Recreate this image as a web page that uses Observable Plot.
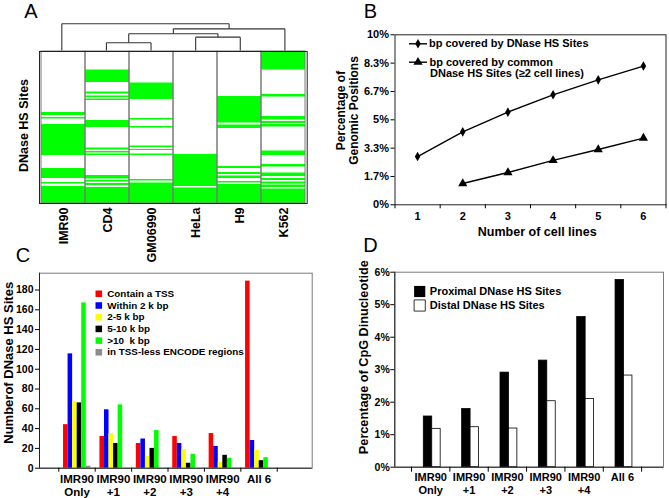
<!DOCTYPE html>
<html><head><meta charset="utf-8">
<script src="https://cdn.jsdelivr.net/npm/d3@7"></script>
<script src="https://cdn.jsdelivr.net/npm/@observablehq/plot@0.6"></script>
<style>
body{margin:0;background:#fff;}
#fig{position:relative;width:669px;height:498px;overflow:hidden;background:#fff;}
#fig svg{position:absolute;left:0;top:0;}
</style></head><body><div id="fig"></div>
<script>
// ---------- Panel A data ----------
const cellLines = ["IMR90","CD4","GM06990","HeLa","H9","K562"];
// green DNase HS site bands (site-row units, 0 = top, 152 = bottom)
const bandsIMR90 = [[61,64],[66,67.5],[73,104],[117,127],[131,132.5],[135,152]];
const bandsCD4 = [[18.5,31],[40.5,42.5],[44.5,46],[47.5,49],[69,76],[96.5,98.5],[100,101.5],[102.5,104],[124,127.5],[129,130.5],[132,134],[136,152]];
const bandsGM06990 = [[31.5,48],[67,68.5],[75,76.5],[94.5,96],[98,99],[102.5,104],[128,129.5],[131.5,152]];
const bandsHeLa = [[103,135],[136.5,152]];
const bandsH9 = [[45,71.5],[73.5,77],[115,117],[121,123],[124.5,127],[130,131.5],[133,152]];
const bandsK562 = [[0,18.5],[43,45.5],[65,68.5],[70,72],[73,75.5],[99.5,104],[113,115.5],[121.5,125],[127,129],[130.5,132.5],[133.5,136],[137.5,152]];
const siteRows = 152;
// dendrogram merges: [left, right, height]
const dendroMerges = [["CD4","GM06990",0.29],["HeLa","H9",0.50],["m0","m1",0.63],["m2","K562",0.81],["IMR90","m3",1.0]];

// ---------- Panel B data ----------
const numCellLines = [1,2,3,4,5,6];
const bpCoveredAll = [2.84,4.29,5.45,6.47,7.35,8.16];
const bpCoveredCommon = [null,1.25,1.90,2.61,3.25,3.92];
const bTickLabels = ["0%","1.7%","3.3%","5%","6.7%","8.3%","10%"];
const bSeriesNames = ["bp covered by DNase HS Sites","bp covered by common","DNase HS Sites (\u22652 cell lines)"];

// ---------- Panel C data ----------
const cCategories = ["IMR90\nOnly","IMR90\n+1","IMR90\n+2","IMR90\n+3","IMR90\n+4","All 6"];
const cSeries = ["Contain a TSS","Within 2 k bp","2-5 k bp","5-10 k bp",">10  k bp","in TSS-less ENCODE regions"];
const cColors = ["#ff0000","#0000ff","#ffff00","#000000","#00ff00","#8c8c8c"];
const cTSS = [44,32,25,32,35,189];
const cWithin2k = [115.5,59,29.5,25,22,28];
const c2to5k = [67,35,12,19,6,18];
const c5to10k = [66,25,20,5,13,7.6];
const cOver10k = [167,64,38,14,10,10.6];
const cTSSless = [2,0,0,0,0,0];
const cTicks = [0,20,40,60,80,100,120,140,160,180];

// ---------- Panel D data ----------
const dCategories = ["IMR90\nOnly","IMR90\n+1","IMR90\n+2","IMR90\n+3","IMR90\n+4","All 6"];
const dProximal = [1.56,1.79,2.91,3.28,4.62,5.76];
const dDistal = [1.18,1.23,1.19,2.03,2.10,2.82];
const dSeries = ["Proximal DNase HS Sites","Distal DNase HS Sites"];

// ---------- helpers ----------
const FONT = "Liberation Sans, Arial, Helvetica, sans-serif";
const W = 669, H = 498;
const baseStyle = {background:"transparent", overflow:"visible", fontFamily:FONT, color:"black"};
function label(t, o) {
  return Plot.text([t], {text: d => d, fontWeight:"bold", textAnchor:"middle", lineAnchor:"middle", fill:"black", ...o});
}
const lineSymbol = {draw(ctx){ ctx.moveTo(-9,0); ctx.lineTo(9,0); }};
const fig = document.getElementById("fig");

// ---------- Panel A: heatmap ----------
const heatRows = [];
[bandsIMR90,bandsCD4,bandsGM06990,bandsHeLa,bandsH9,bandsK562].forEach((bs,i) => {
  bs.forEach(([s,e]) => heatRows.push({line: cellLines[i], start: s, end: e}));
});
const A = Plot.plot({
  width:W, height:H, marginLeft:39, marginRight:362.3, marginTop:51, marginBottom:295,
  style: baseStyle,
  x:{domain:cellLines, padding:0, axis:null},
  y:{domain:[0,siteRows], reverse:true, axis:null},
  marks:[
    Plot.barY(heatRows, {x:"line", y1:"start", y2:"end", fill:"#00ff00", inset:0}),
    Plot.barY(cellLines, {x:d=>d, y1:()=>0, y2:()=>siteRows, fill:"none", stroke:"#7a7a7a", inset:0}),
    Plot.frame({stroke:"#222"}),
    Plot.axisX({anchor:"bottom", label:null, tickRotate:-90, tickSize:0, tickPadding:4, fontSize:12.5, fontWeight:"bold"}),
    label("DNase HS Sites", {frameAnchor:"left", dx:-16, dy:-2, rotate:-90, fontSize:12.5}),
    label("A", {frameAnchor:"top-left", dx:-8.5, dy:-39.5, fontSize:20, fontWeight:"normal"})
  ]
});
fig.appendChild(A);

// dendrogram
const pos = {}; cellLines.forEach((c,i) => pos[c] = {x:i, h:0});
const segs = [];
dendroMerges.forEach(([a,b,h],k) => {
  const pa = pos[a], pb = pos[b];
  segs.push({x1:pa.x, y1:pa.h, x2:pa.x, y2:h});
  segs.push({x1:pb.x, y1:pb.h, x2:pb.x, y2:h});
  segs.push({x1:pa.x, y1:h, x2:pb.x, y2:h});
  pos["m"+k] = {x:(pa.x+pb.x)/2, h};
});
const Ad = Plot.plot({
  width:W, height:H, marginLeft:39, marginRight:362.3, marginTop:23.3, marginBottom:448,
  style: baseStyle,
  x:{domain:[-0.5,5.5], axis:null}, y:{domain:[0,1], axis:null},
  marks:[Plot.link(segs, {x1:"x1", y1:"y1", x2:"x2", y2:"y2", stroke:"#333", strokeWidth:1.1})]
});
fig.appendChild(Ad);

// ---------- Panel B ----------
const bAll = numCellLines.map((n,i) => ({n, v: bpCoveredAll[i]}));
const bCommon = numCellLines.map((n,i) => ({n, v: bpCoveredCommon[i]})).filter(d => d.v != null);
const bYTicks = bTickLabels.map((_,i) => i*10/6);
const bxMin = 0.5, byMax = 10;
const B = Plot.plot({
  width:W, height:H, marginLeft:394.5, marginRight:3.5, marginTop:34.3, marginBottom:293.7,
  style: baseStyle,
  x:{domain:[0.5,6.5], axis:null}, y:{domain:[0,10], axis:null},
  marks:[
    Plot.frame({stroke:"#222"}),
    Plot.axisY({label:null, ticks:bYTicks, tickFormat:d => bTickLabels[Math.round(d*6/10)], tickSize:4, tickPadding:2, fontSize:11, fontWeight:"bold"}),
    Plot.axisX({label:null, ticks:[0.5,1.5,2.5,3.5,4.5,5.5,6.5], tickFormat:()=>"", tickSize:4}),
    Plot.axisX({label:null, ticks:numCellLines, tickFormat:d => String(d), tickSize:0, tickPadding:7, fontSize:11, fontWeight:"bold"}),
    Plot.line(bAll, {x:"n", y:"v", stroke:"black", strokeWidth:1.4}),
    Plot.dot(bAll, {x:"n", y:"v", symbol:"diamond", r:2.9, fill:"black"}),
    Plot.line(bCommon, {x:"n", y:"v", stroke:"black", strokeWidth:1.4}),
    Plot.dot(bCommon, {x:"n", y:"v", symbol:"triangle", r:3.4, fill:"black"}),
    // legend
    Plot.dot([0], {x:()=>bxMin, y:()=>byMax, dx:23, dy:9, symbol:lineSymbol, stroke:"black", strokeWidth:1.4, fill:"none"}),
    Plot.dot([0], {x:()=>bxMin, y:()=>byMax, dx:23, dy:9, symbol:"diamond", r:2.9, fill:"black"}),
    Plot.text([bSeriesNames[0]], {x:()=>bxMin, y:()=>byMax, dx:34, dy:9, textAnchor:"start", lineAnchor:"middle", fontSize:11, fontWeight:"bold", fill:"black"}),
    Plot.dot([0], {x:()=>bxMin, y:()=>byMax, dx:23, dy:27.4, symbol:lineSymbol, stroke:"black", strokeWidth:1.4, fill:"none"}),
    Plot.dot([0], {x:()=>bxMin, y:()=>byMax, dx:23, dy:27.4, symbol:"triangle", r:3.4, fill:"black"}),
    Plot.text([bSeriesNames[1]], {x:()=>bxMin, y:()=>byMax, dx:34.5, dy:27.4, textAnchor:"start", lineAnchor:"middle", fontSize:11, fontWeight:"bold", fill:"black"}),
    Plot.text([bSeriesNames[2]], {x:()=>bxMin, y:()=>byMax, dx:35, dy:39, textAnchor:"start", lineAnchor:"middle", fontSize:11, fontWeight:"bold", fill:"black"}),
    label("Percentage of\nGenomic Positions", {frameAnchor:"left", dx:-47.8, dy:-9.3, rotate:-90, fontSize:12, lineHeight:1.1}),
    label("Number of cell lines", {frameAnchor:"bottom", dx:6.7, dy:27.4, fontSize:12.5}),
    label("B", {frameAnchor:"top-left", dx:-24.5, dy:-22.8, fontSize:20, fontWeight:"normal"})
  ]
});
fig.appendChild(B);

// ---------- Panel C ----------
const cValues = [cTSS,cWithin2k,c2to5k,c5to10k,cOver10k,cTSSless];
const cRows = [];
cCategories.forEach((cat,i) => cValues.forEach((vals,j) => {
  if (vals[i] > 0) cRows.push({series:cSeries[j], x1:i+0.13+j*0.125, x2:i+0.13+(j+1)*0.125, v:vals[i]});
}));
const cxDom = [-0.53,6.96], cyDom = [0,197];
const cLegend = [];
cSeries.forEach((s,k) => {
  cLegend.push(Plot.dot([s], {x:()=>cxDom[0], y:()=>cyDom[1], dx:59.3, dy:20.6+k*11.7, symbol:"square", r:3.7, fill:cColors[k]}));
  cLegend.push(Plot.text([s], {x:()=>cxDom[0], y:()=>cyDom[1], dx:67.7, dy:20.6+k*11.7, textAnchor:"start", lineAnchor:"middle", fontSize:9.9, fontWeight:"bold", fill:"black"}));
});
const C = Plot.plot({
  width:W, height:H, marginLeft:39, marginRight:357.3, marginTop:272.7, marginBottom:30.3,
  style: baseStyle,
  x:{domain:cxDom, axis:null}, y:{domain:cyDom, axis:null},
  color:{domain:cSeries, range:cColors},
  marks:[
    Plot.frame({stroke:"#7a7a7a"}),
    Plot.rect(cRows, {x1:"x1", x2:"x2", y1:()=>0, y2:"v", fill:"series"}),
    Plot.ruleX([cxDom[0]], {stroke:"#222"}),
    Plot.ruleY([0], {stroke:"#222"}),
    Plot.axisY({label:null, ticks:cTicks, tickSize:4, tickPadding:2, fontSize:10.5, fontWeight:"bold"}),
    Plot.axisX({label:null, ticks:[0,1,2,3,4,5,6], tickFormat:()=>"", tickSize:4}),
    Plot.axisX({label:null, ticks:[0.5,1.5,2.5,3.5,4.5,5.5], tickFormat:d => cCategories[Math.floor(d)], tickSize:0, tickPadding:5, fontSize:11.5, fontWeight:"bold", lineHeight:1.17}),
    ...cLegend,
    label("Numberof DNase HS Sites", {frameAnchor:"left", dx:-30.7, dy:-7.9, rotate:-90, fontSize:13}),
    label("C", {frameAnchor:"top-left", dx:-16.5, dy:-17.7, fontSize:20, fontWeight:"normal"})
  ]
});
fig.appendChild(C);

// ---------- Panel D ----------
const dRows = [];
dCategories.forEach((cat,i) => {
  dRows.push({series:dSeries[0], x1:i+0.32, x2:i+0.54, v:dProximal[i]});
  dRows.push({series:dSeries[1], x1:i+0.54, x2:i+0.76, v:dDistal[i]});
});
const dxDom = [-0.436,6.57], dyDom = [0,6];
const D = Plot.plot({
  width:W, height:H, marginLeft:394.3, marginRight:6, marginTop:271.7, marginBottom:31.3,
  style: baseStyle,
  x:{domain:dxDom, axis:null}, y:{domain:dyDom, axis:null},
  color:{domain:dSeries, range:["#000000","#ffffff"]},
  marks:[
    Plot.frame({stroke:"#7a7a7a"}),
    Plot.rect(dRows, {x1:"x1", x2:"x2", y1:()=>0, y2:"v", fill:"series", stroke:"black", strokeWidth:0.8}),
    Plot.ruleX([dxDom[0]], {stroke:"#222"}),
    Plot.ruleY([0], {stroke:"#222"}),
    Plot.axisY({label:null, ticks:[0,1,2,3,4,5,6], tickFormat:d => d + "%", tickSize:4, tickPadding:1, fontSize:10.5, fontWeight:"bold"}),
    Plot.axisX({label:null, ticks:[0,1,2,3,4,5,6], tickFormat:()=>"", tickSize:5}),
    Plot.axisX({label:null, ticks:[0.5,1.5,2.5,3.5,4.5,5.5], tickFormat:d => dCategories[Math.floor(d)], tickSize:0, tickPadding:5, fontSize:11, fontWeight:"bold", lineHeight:1.15}),
    Plot.dot([dSeries[0]], {x:()=>dxDom[0], y:()=>dyDom[1], dx:24.9, dy:19.3, symbol:"square", r:6.3, fill:"black"}),
    Plot.text([dSeries[0]], {x:()=>dxDom[0], y:()=>dyDom[1], dx:35, dy:19.3, textAnchor:"start", lineAnchor:"middle", fontSize:11, fontWeight:"bold", fill:"black"}),
    Plot.dot([dSeries[1]], {x:()=>dxDom[0], y:()=>dyDom[1], dx:24.9, dy:33.3, symbol:"square", r:6.3, fill:"white", stroke:"black", strokeWidth:0.8}),
    Plot.text([dSeries[1]], {x:()=>dxDom[0], y:()=>dyDom[1], dx:35, dy:33.3, textAnchor:"start", lineAnchor:"middle", fontSize:11, fontWeight:"bold", fill:"black"}),
    label("Percentage of CpG Dinucleotide", {frameAnchor:"left", dx:-31, dy:-12.5, rotate:-90, fontSize:12.7}),
    label("D", {frameAnchor:"top-left", dx:-24.3, dy:-26.7, fontSize:20, fontWeight:"normal"})
  ]
});
fig.appendChild(D);
</script>
</body></html>
